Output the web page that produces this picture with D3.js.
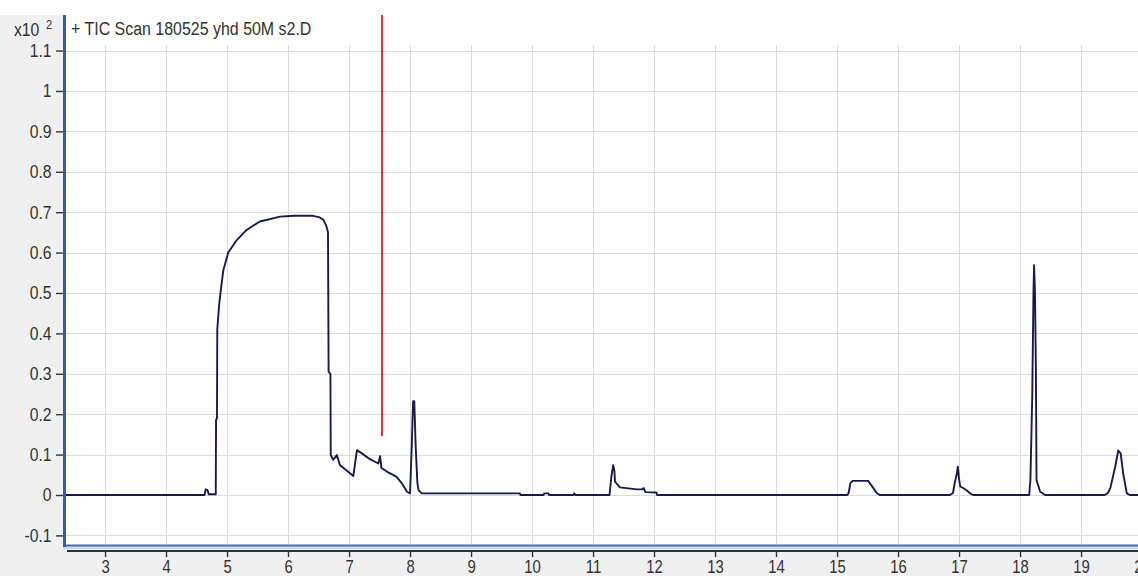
<!DOCTYPE html>
<html>
<head>
<meta charset="utf-8">
<script src="https://cdn.jsdelivr.net/npm/d3@7/dist/d3.min.js"></script>
<style>
  html, body { margin: 0; padding: 0; background: #ffffff; }
  svg { display: block; }
  text { font-family: "Liberation Sans", Arial, sans-serif; fill: #333333; }
</style>
</head>
<body>
<svg id="chart" width="1138" height="576"></svg>
<script>
// Total ion chromatogram: retention time (min) vs. abundance (x10^2)
const traceTitle = "+ TIC Scan 180525 yhd 50M s2.D";
const retentionTimes = [
  2.36, 4.63, 4.65, 4.68, 4.70, 4.815, 4.82, 4.835, 4.84, 4.87, 4.90, 4.94, 5.02, 5.16, 5.32, 5.54,
  5.87, 6.10, 6.41, 6.52, 6.58, 6.63, 6.655, 6.665, 6.695, 6.70, 6.74, 6.80, 6.85, 6.95, 7.07,
  7.13, 7.21, 7.35, 7.48, 7.51, 7.53, 7.62, 7.78, 7.86, 7.95, 8.00, 8.03, 8.05, 8.07, 8.09,
  8.12, 8.14, 8.19, 9.80, 9.81, 10.19, 10.20, 10.27, 10.28, 10.68, 10.69, 10.71, 11.27, 11.30,
  11.33, 11.35, 11.36, 11.44, 11.72, 11.80, 11.83, 11.86, 12.04, 12.05, 15.17, 15.19, 15.22,
  15.26, 15.51, 15.58, 15.65, 15.70, 16.85, 16.90, 16.93, 16.96, 16.98, 17.00, 17.02, 17.08,
  17.13, 17.18, 17.23, 18.15, 18.17, 18.20, 18.22, 18.23, 18.245, 18.26, 18.27, 18.33, 18.41,
  19.39, 19.44, 19.48, 19.56, 19.61, 19.65, 19.69, 19.75, 19.80, 20.0
];
const abundances = [
  0.0, 0.0, 0.014, 0.012, 0.002, 0.002, 0.185, 0.19, 0.41, 0.47, 0.51, 0.557, 0.60, 0.631, 0.656, 0.677,
  0.689, 0.691, 0.691, 0.687, 0.681, 0.665, 0.65, 0.305, 0.30, 0.099, 0.087, 0.099, 0.074, 0.062, 0.047,
  0.111, 0.103, 0.088, 0.078, 0.096, 0.067, 0.058, 0.045, 0.03, 0.008, 0.004, 0.13, 0.232, 0.232, 0.13,
  0.03, 0.012, 0.004, 0.004, 0.0, 0.0, 0.004, 0.004, 0.0, 0.0, 0.004, 0.0, 0.0, 0.045,
  0.074, 0.06, 0.033, 0.019, 0.014, 0.014, 0.017, 0.007, 0.006, 0.0, 0.0, 0.005, 0.03,
  0.035, 0.035, 0.02, 0.005, 0.0, 0.0, 0.005, 0.03, 0.05, 0.07, 0.04, 0.021, 0.016,
  0.011, 0.004, 0.0, 0.0, 0.037, 0.243, 0.5, 0.569, 0.5, 0.313, 0.037, 0.008, 0.0,
  0.0, 0.005, 0.017, 0.07, 0.11, 0.103, 0.054, 0.004, 0.0, 0.0
];
const xTickValues = [3, 4, 5, 6, 7, 8, 9, 10, 11, 12, 13, 14, 15, 16, 17, 18, 19, 20];
const yTickValues = [-0.1, 0, 0.1, 0.2, 0.3, 0.4, 0.5, 0.6, 0.7, 0.8, 0.9, 1, 1.1];
const cursorTime = 7.54;       // vertical marker
const cursorLow = 0.146;       // marker lower end (abundance units)

const W = 1138, H = 576;
const plot = { left: 66, top: 15, bottom: 545.5 };
const xScale = d3.scaleLinear().domain([2.36, 20.0]).range([plot.left, plot.left + 17.64 * 61]);
const yScale = d3.scaleLinear().domain([-0.125, 1.188]).range([plot.bottom, plot.top]);
const squeeze = 0.85; // narrow UI font look

const svg = d3.select("#chart");

// backgrounds
svg.append("rect").attr("x", 0).attr("y", 0).attr("width", W).attr("height", H).attr("fill", "#ffffff");
svg.append("rect").attr("x", 0).attr("y", plot.top).attr("width", 63).attr("height", H - plot.top).attr("fill", "#f0f0f0");
svg.append("rect").attr("x", 0).attr("y", 546).attr("width", W).attr("height", H - 546).attr("fill", "#f0f0f0");

// grid
const grid = svg.append("g").attr("stroke", "#dadada").attr("stroke-width", 1);
grid.selectAll("line.h").data(yTickValues).join("line")
  .attr("x1", plot.left).attr("x2", W)
  .attr("y1", d => Math.round(yScale(d)) + 0.5).attr("y2", d => Math.round(yScale(d)) + 0.5);
grid.selectAll("line.v").data(xTickValues).join("line")
  .attr("x1", d => Math.round(xScale(d)) + 0.5).attr("x2", d => Math.round(xScale(d)) + 0.5)
  .attr("y1", 45).attr("y2", plot.bottom);

// chromatogram trace
const points = retentionTimes.map((t, i) => [t, abundances[i]]);
const line = d3.line().x(d => xScale(d[0])).y(d => yScale(d[1]));
svg.append("path").datum(points)
  .attr("d", line)
  .attr("fill", "none")
  .attr("stroke", "#1b1b4a")
  .attr("stroke-width", 1.9)
  .attr("stroke-linejoin", "round");

// cursor marker
svg.append("line")
  .attr("x1", xScale(cursorTime)).attr("x2", xScale(cursorTime))
  .attr("y1", plot.top).attr("y2", yScale(cursorLow))
  .attr("stroke", "#d0202e").attr("stroke-width", 1.8);

// frame: plot bottom border, light band, x-axis line, left axis
svg.append("rect").attr("x", 63).attr("y", 546.5).attr("width", W - 63).attr("height", 2.5).attr("fill", "#c6daee");
svg.append("line").attr("x1", 63).attr("x2", W).attr("y1", 545.5).attr("y2", 545.5)
  .attr("stroke", "#4a6aa8").attr("stroke-width", 2);
svg.append("line").attr("x1", 67).attr("x2", W).attr("y1", 551).attr("y2", 551)
  .attr("stroke", "#27324d").attr("stroke-width", 2);
svg.append("line").attr("x1", 64.5).attr("x2", 64.5).attr("y1", plot.top).attr("y2", 547)
  .attr("stroke", "#3d5c9e").attr("stroke-width", 3);

// y axis ticks and labels
const yAxis = d3.axisLeft(yScale)
  .tickValues(yTickValues)
  .tickSize(7)
  .tickPadding(6.5)
  .tickFormat(d => String(+d.toFixed(1)));
const gy = svg.append("g").attr("transform", "translate(63,0)").call(yAxis);
gy.select(".domain").remove();
gy.selectAll(".tick line").attr("stroke", "#333").attr("stroke-width", 1.4);
gy.selectAll(".tick text")
  .attr("font-size", 18.5)
  .attr("font-family", "'Liberation Sans', Arial, sans-serif")
  .attr("fill", "#2e2e2e")
  .attr("transform", `scale(${squeeze},1)`);

// x axis ticks and labels
const xAxis = d3.axisBottom(xScale)
  .tickValues(xTickValues)
  .tickSize(6)
  .tickPadding(4)
  .tickFormat(d3.format("d"));
const gx = svg.append("g").attr("transform", "translate(0,551)").call(xAxis);
gx.select(".domain").remove();
gx.selectAll(".tick line").attr("stroke", "#333").attr("stroke-width", 1.4);
gx.selectAll(".tick text")
  .attr("font-size", 17.5)
  .attr("font-family", "'Liberation Sans', Arial, sans-serif")
  .attr("fill", "#2e2e2e")
  .attr("transform", `scale(${squeeze},1)`);

// exponent label
const expo = svg.append("text").attr("transform", `translate(14,36) scale(${squeeze},1)`)
  .attr("font-size", 18.5);
expo.append("tspan").text("x10");
svg.append("text").attr("transform", `translate(46,29) scale(${squeeze},1)`)
  .attr("font-size", 13).text("2");

// trace title
svg.append("text").attr("transform", `translate(71,35) scale(0.84,1)`)
  .attr("font-size", 19).attr("fill", "#222").text(traceTitle);
</script>
</body>
</html>
